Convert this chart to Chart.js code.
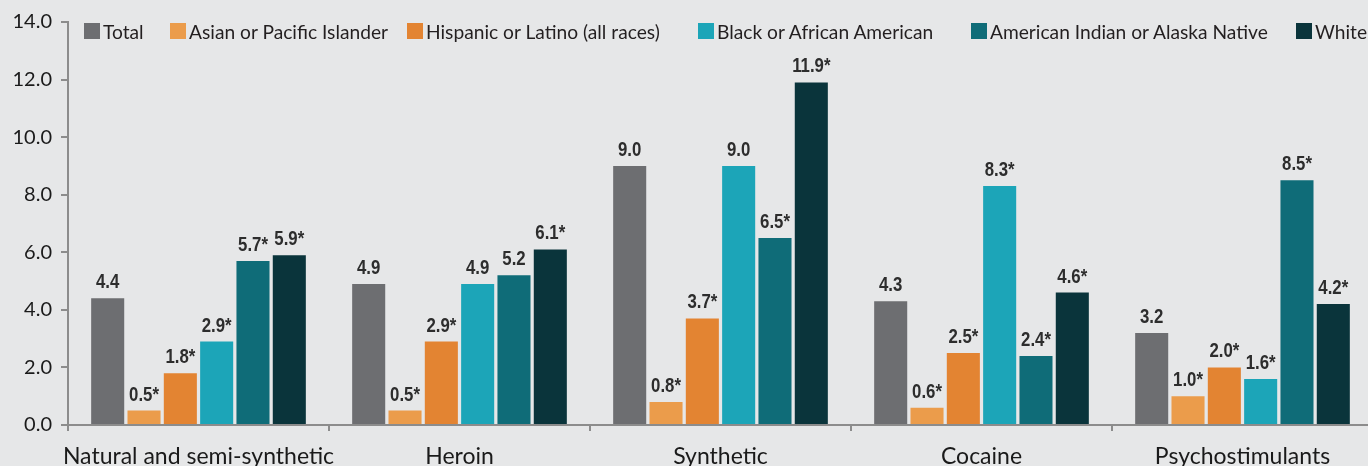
<!DOCTYPE html>
<html>
<head>
<meta charset="utf-8">
<script src="https://cdn.jsdelivr.net/npm/chart.js@4"></script>
<style>
  html, body { margin: 0; padding: 0; background: #e6e7e8; overflow: hidden; }
  #wrap { position: relative; width: 1373px; height: 466px; }
  #legend { position: absolute; left: 0; top: 19px; width: 1373px; height: 24px;
            font-family: Lato, sans-serif; font-size: 19.2px; color: #231f20; white-space: nowrap; }
  #legend .item { position: absolute; top: 0; display: flex; align-items: center; height: 24px; }
  #legend .box { width: 16px; height: 16px; margin-right: 3px; }
</style>
</head>
<body>
<div id="wrap">
  <canvas id="deathChart" width="1373" height="466"></canvas>
  <div id="legend"></div>
</div>
<script>
// drug categories on the x axis
const categories = ['Natural and semi-synthetic', 'Heroin', 'Synthetic', 'Cocaine', 'Psychostimulants'];
const yTicks = [0, 2, 4, 6, 8, 10, 12, 14];

// rates per series
const total    = [4.4, 4.9, 9.0, 4.3, 3.2];
const asian    = [0.5, 0.5, 0.8, 0.6, 1.0];
const hispanic = [1.8, 2.9, 3.7, 2.5, 2.0];
const black    = [2.9, 4.9, 9.0, 8.3, 1.6];
const aian     = [5.7, 5.2, 6.5, 2.4, 8.5];
const white    = [5.9, 6.1, 11.9, 4.6, 4.2];

// 1 = value printed with an asterisk
const starTotal    = [0, 0, 0, 0, 0];
const starAsian    = [1, 1, 1, 1, 1];
const starHispanic = [1, 1, 1, 1, 1];
const starBlack    = [1, 0, 0, 1, 1];
const starAian     = [1, 0, 1, 1, 1];
const starWhite    = [1, 1, 1, 1, 1];

const seriesNames = ['Total', 'Asian or Pacific Islander', 'Hispanic or Latino (all races)',
                     'Black or African American', 'American Indian or Alaska Native', 'White'];
const seriesColors = ['#6d6e71', '#eb9c4b', '#e38432', '#1ca5b8', '#0f6c78', '#0a343b'];

document.addEventListener("DOMContentLoaded", function() {
    const values = [total, asian, hispanic, black, aian, white];
    const stars = [starTotal, starAsian, starHispanic, starBlack, starAian, starWhite];
    const legendX = [84, 170, 407, 698, 971, 1296];
    const axisGray = '#8c8c8c';

    // bold condensed numbers above each bar (squeezed Liberation Sans)
    const valueLabels = {
        id: 'valueLabels',
        afterDatasetsDraw(chart) {
            const ctx = chart.ctx;
            const squeeze = 0.84;
            chart.data.datasets.forEach(function(ds, i) {
                chart.getDatasetMeta(i).data.forEach(function(bar, j) {
                    const txt = ds.data[j].toFixed(1) + (stars[i][j] ? '*' : '');
                    ctx.save();
                    ctx.translate(bar.x, bar.y - 10);
                    ctx.scale(squeeze, 1);
                    ctx.font = 'bold 20px "Liberation Sans", Arial, sans-serif';
                    ctx.fillStyle = '#2d2d2d';
                    ctx.textAlign = 'center';
                    ctx.textBaseline = 'alphabetic';
                    ctx.fillText(txt, 0, 0);
                    ctx.restore();
                });
            });
        }
    };

    const chart = new Chart(document.getElementById('deathChart').getContext('2d'), {
        type: 'bar',
        data: {
            labels: categories,
            datasets: values.map(function(v, i) {
                return {
                    label: seriesNames[i],
                    data: v,
                    backgroundColor: seriesColors[i],
                    borderWidth: 0,
                    categoryPercentage: 0.835,
                    barPercentage: 0.91
                };
            })
        },
        options: {
            responsive: false,
            animation: false,
            layout: { padding: { top: 22, right: 0, left: 0, bottom: 0 } },
            plugins: {
                legend: { display: false },
                tooltip: { enabled: false },
                title: { display: false }
            },
            scales: {
                y: {
                    min: 0, max: 14,
                    afterFit: function(s) { s.width = 68; },
                    afterBuildTicks: function(s) { s.ticks = yTicks.map(v => ({ value: v })); },
                    border: { display: true, color: axisGray, width: 2 },
                    grid: { drawOnChartArea: false, drawTicks: true, tickLength: 7, color: axisGray, lineWidth: 2 },
                    ticks: {
                        padding: 9,
                        color: '#1a1a1a',
                        font: { family: 'Lato', size: 20 },
                        callback: function(v) { return v.toFixed(1); }
                    }
                },
                x: {
                    afterFit: function(s) { s.height = 41; },
                    border: { display: true, color: axisGray, width: 2 },
                    grid: { drawOnChartArea: false, drawTicks: true, tickLength: 6, color: axisGray, lineWidth: 2 },
                    ticks: {
                        padding: 12,
                        color: '#1a1a1a',
                        maxRotation: 0,
                        autoSkip: false,
                        font: { family: 'Lato', size: 23 }
                    }
                }
            }
        },
        plugins: [valueLabels]
    });

    // legend built from the chart's own datasets
    const legend = document.getElementById('legend');
    chart.data.datasets.forEach(function(ds, i) {
        const item = document.createElement('div');
        item.className = 'item';
        item.style.left = legendX[i] + 'px';
        const box = document.createElement('span');
        box.className = 'box';
        box.style.background = ds.backgroundColor;
        const txt = document.createElement('span');
        txt.textContent = ds.label;
        item.appendChild(box);
        item.appendChild(txt);
        legend.appendChild(item);
    });
});
</script>
</body>
</html>
